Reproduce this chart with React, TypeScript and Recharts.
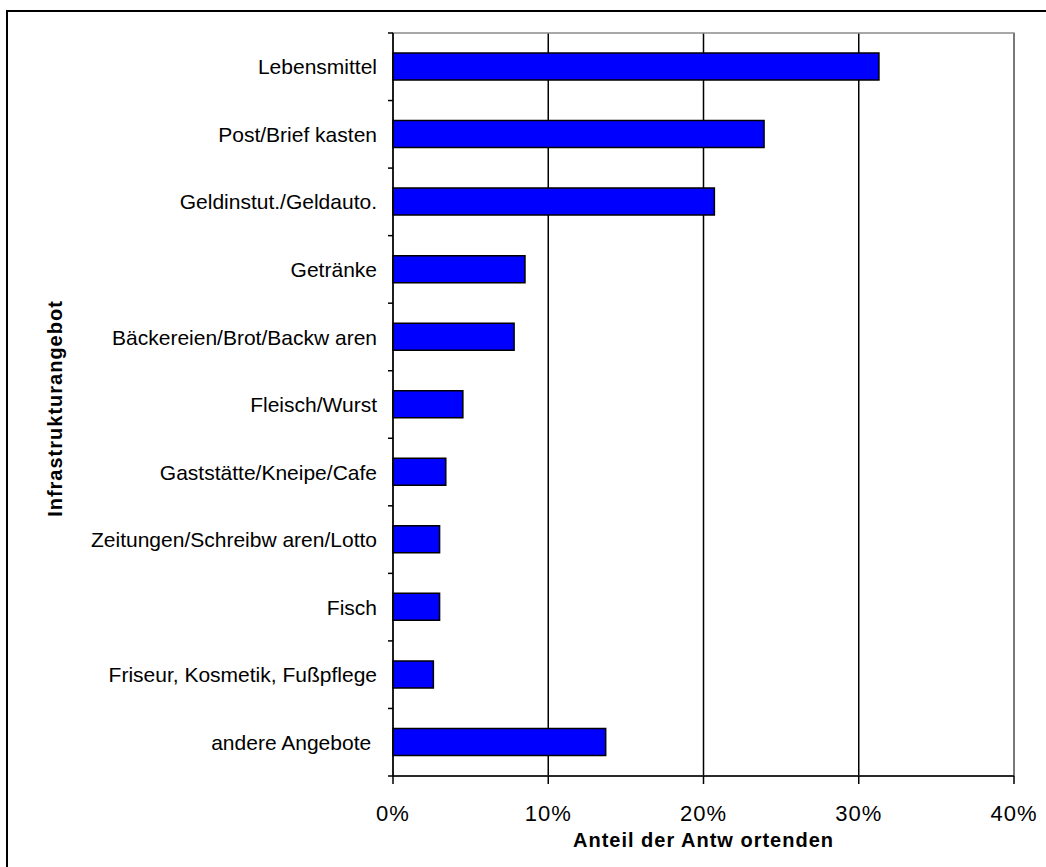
import {
  BarChart,
  Bar,
  XAxis,
  YAxis,
  CartesianGrid,
  ReferenceArea,
} from "recharts";

const categories = [
  "Lebensmittel",
  "Post/Brief kasten",
  "Geldinstut./Geldauto.",
  "Getränke",
  "Bäckereien/Brot/Backw aren",
  "Fleisch/Wurst",
  "Gaststätte/Kneipe/Cafe",
  "Zeitungen/Schreibw aren/Lotto",
  "Fisch",
  "Friseur, Kosmetik, Fußpflege",
  "andere Angebote\u00A0",
];
const shares = [31.3, 23.9, 20.7, 8.5, 7.8, 4.5, 3.4, 3.0, 3.0, 2.6, 13.7];
const xTicks = [0, 10, 20, 30, 40];

const xTitle = "Anteil der Antw ortenden";
const yTitle = "Infrastrukturangebot";

const W = 1046;
const H = 867;
const PLOT_TOP = 33;
const PLOT_BOTTOM = 776;
const Y_AXIS_W = 393;
const FONT = "'Liberation Sans', Arial, sans-serif";

const data = categories.map((name, i) => ({ name, value: shares[i] }));
const band = (PLOT_BOTTOM - PLOT_TOP) / categories.length;

// labels + tick marks between categories (like the excel original)
const CategoryTick = (props: any) => {
  const { x, y, payload, index } = props;
  const axisX = x + 16;
  return (
    <g>
      <text
        x={x}
        y={y}
        dy="0.36em"
        textAnchor="end"
        fill="#000"
        fontSize={21}
        fontFamily={FONT}
      >
        {payload.value}
      </text>
      <line x1={axisX - 5} x2={axisX} y1={y - band / 2} y2={y - band / 2} stroke="#000" strokeWidth={1.5} />
      {index === categories.length - 1 && (
        <line x1={axisX - 5} x2={axisX} y1={y + band / 2} y2={y + band / 2} stroke="#000" strokeWidth={1.5} />
      )}
    </g>
  );
};

const YTitle = (props: any) => {
  const vb = props.viewBox || { x: 0, y: PLOT_TOP, width: Y_AXIS_W, height: PLOT_BOTTOM - PLOT_TOP };
  const cx = vb.x + 55;
  const cy = vb.y + vb.height / 2 + 4;
  return (
    <text
      x={cx}
      y={cy}
      transform={`rotate(-90 ${cx} ${cy})`}
      textAnchor="middle"
      dominantBaseline="central"
      fill="#000"
      fontSize={20}
      fontWeight="bold"
      letterSpacing={1}
      fontFamily={FONT}
    >
      {yTitle}
    </text>
  );
};

const XTitle = (props: any) => {
  const vb = props.viewBox || { x: Y_AXIS_W, y: PLOT_BOTTOM, width: 621, height: H - PLOT_BOTTOM };
  return (
    <text
      x={vb.x + vb.width / 2}
      y={vb.y + vb.height - 20}
      textAnchor="middle"
      fill="#000"
      fontSize={20}
      fontWeight="bold"
      letterSpacing={1}
      fontFamily={FONT}
    >
      {xTitle}
    </text>
  );
};

export default function App() {
  return (
    <div
      style={{
        position: "fixed",
        left: 0,
        top: 0,
        width: W,
        height: H,
        overflow: "hidden",
        background: "#fff",
      }}
    >
      <div
        style={{
          position: "absolute",
          left: 6,
          top: 10,
          width: 2000,
          height: 2000,
          border: "2px solid #000",
          boxSizing: "border-box",
        }}
      />
      <div style={{ position: "absolute", left: 0, top: 0 }}>
        <BarChart
          width={W}
          height={H}
          data={data}
          layout="vertical"
          margin={{ top: PLOT_TOP, right: W - 1014, bottom: 0, left: 0 }}
          barSize={27}
        >
          <CartesianGrid horizontal={false} stroke="#000" strokeWidth={1.5} />
          <ReferenceArea x1={0} x2={40} fill="none" stroke="#8c8c8c" strokeWidth={1.5} />
          <XAxis
            type="number"
            domain={[0, 40]}
            ticks={xTicks}
            tickFormatter={(v: number) => `${v}%`}
            height={H - PLOT_BOTTOM}
            tickSize={8}
            tickMargin={21}
            axisLine={{ stroke: "#000", strokeWidth: 1.5 }}
            tickLine={{ stroke: "#000", strokeWidth: 1.5 }}
            tick={{ fill: "#000", fontSize: 22, fontFamily: FONT, letterSpacing: 1 }}
            label={{ content: XTitle }}
          />
          <YAxis
            type="category"
            dataKey="name"
            width={Y_AXIS_W}
            tickSize={5}
            tickMargin={11}
            tickLine={false}
            interval={0}
            axisLine={{ stroke: "#000", strokeWidth: 1.5 }}
            tick={<CategoryTick />}
            label={{ content: YTitle }}
          />
          <Bar
            dataKey="value"
            fill="#0000ff"
            stroke="#000"
            strokeWidth={1.5}
            isAnimationActive={false}
          />
        </BarChart>
      </div>
    </div>
  );
}
